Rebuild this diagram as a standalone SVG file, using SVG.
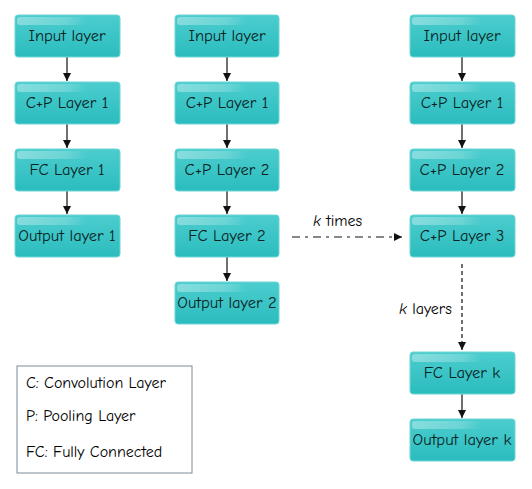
<svg xmlns="http://www.w3.org/2000/svg" width="532" height="489" viewBox="0 0 532 489">
<defs>
<linearGradient id="g" x1="0" y1="0" x2="0" y2="1">
<stop offset="0" stop-color="#4ccdce"/>
<stop offset="1" stop-color="#2bbcbe"/>
</linearGradient>
<linearGradient id="hl" x1="0" y1="0" x2="1" y2="0">
<stop offset="0" stop-color="#ffffff" stop-opacity="0.35"/>
<stop offset="0.7" stop-color="#ffffff" stop-opacity="0.2"/>
<stop offset="1" stop-color="#ffffff" stop-opacity="0"/>
</linearGradient>
<marker id="ah" markerWidth="10" markerHeight="10" refX="9" refY="5" orient="auto" markerUnits="userSpaceOnUse">
<path d="M1,1 L9,5 L1,9 Z" fill="#111"/>
</marker>
</defs>
<style>
.box{fill:url(#g);stroke:#6fd6d6;stroke-width:1}
.hl{fill:url(#hl)}
.t{font-family:"Comic Neue","Liberation Sans",Arial,sans-serif;font-size:16.5px;fill:#0a2222;text-anchor:middle}
.lg{font-family:"Comic Neue","Liberation Sans",Arial,sans-serif;font-size:16px;fill:#000}
.c{stroke:#111;stroke-width:1.2;fill:none}
</style>
<rect width="532" height="489" fill="#ffffff"/>
<g id="connectors">
<line class="c" x1="67" y1="57" x2="67" y2="81" marker-end="url(#ah)"/>
<line class="c" x1="67" y1="124" x2="67" y2="148" marker-end="url(#ah)"/>
<line class="c" x1="67" y1="191" x2="67" y2="214" marker-end="url(#ah)"/>
<line class="c" x1="227" y1="57" x2="227" y2="81" marker-end="url(#ah)"/>
<line class="c" x1="227" y1="124" x2="227" y2="148" marker-end="url(#ah)"/>
<line class="c" x1="227" y1="191" x2="227" y2="214" marker-end="url(#ah)"/>
<line class="c" x1="227" y1="257" x2="227" y2="281" marker-end="url(#ah)"/>
<line class="c" x1="462" y1="57" x2="462" y2="81" marker-end="url(#ah)"/>
<line class="c" x1="462" y1="124" x2="462" y2="148" marker-end="url(#ah)"/>
<line class="c" x1="462" y1="191" x2="462" y2="214" marker-end="url(#ah)"/>
<line class="c" x1="462" y1="394" x2="462" y2="418" marker-end="url(#ah)"/>
<line class="c" x1="292" y1="237" x2="402" y2="237" stroke="#000" stroke-width="2.5" stroke-dasharray="8,5,3,5" marker-end="url(#ah)"/>
<line class="c" x1="462" y1="264" x2="462" y2="350" stroke-dasharray="4,3" marker-end="url(#ah)"/>
<text class="lg" x="313" y="226"><tspan font-style="italic">k</tspan> times</text>
<text class="lg" x="399" y="314"><tspan font-style="italic">k</tspan> layers</text>
</g>
<g id="c1-input"><rect class="box" x="15" y="15" width="105" height="42" rx="3"/><rect class="hl" x="17" y="17" width="70" height="8" rx="3"/><text class="t" x="67" y="41">Input layer</text></g>
<g id="c1-cp1"><rect class="box" x="15" y="82" width="105" height="42" rx="3"/><rect class="hl" x="17" y="84" width="70" height="8" rx="3"/><text class="t" x="67" y="108">C+P Layer 1</text></g>
<g id="c1-fc1"><rect class="box" x="15" y="149" width="105" height="42" rx="3"/><rect class="hl" x="17" y="151" width="70" height="8" rx="3"/><text class="t" x="67" y="175">FC Layer 1</text></g>
<g id="c1-out1"><rect class="box" x="15" y="215" width="105" height="42" rx="3"/><rect class="hl" x="17" y="217" width="70" height="8" rx="3"/><text class="t" x="67" y="241">Output layer 1</text></g>

<g id="c2-input"><rect class="box" x="175" y="15" width="104" height="42" rx="3"/><rect class="hl" x="177" y="17" width="70" height="8" rx="3"/><text class="t" x="227" y="41">Input layer</text></g>
<g id="c2-cp1"><rect class="box" x="175" y="82" width="104" height="42" rx="3"/><rect class="hl" x="177" y="84" width="70" height="8" rx="3"/><text class="t" x="227" y="108">C+P Layer 1</text></g>
<g id="c2-cp2"><rect class="box" x="175" y="149" width="104" height="42" rx="3"/><rect class="hl" x="177" y="151" width="70" height="8" rx="3"/><text class="t" x="227" y="175">C+P Layer 2</text></g>
<g id="c2-fc2"><rect class="box" x="175" y="215" width="104" height="42" rx="3"/><rect class="hl" x="177" y="217" width="70" height="8" rx="3"/><text class="t" x="227" y="241">FC Layer 2</text></g>
<g id="c2-out2"><rect class="box" x="175" y="282" width="104" height="42" rx="3"/><rect class="hl" x="177" y="284" width="70" height="8" rx="3"/><text class="t" x="227" y="308">Output layer 2</text></g>

<g id="c3-input"><rect class="box" x="410" y="15" width="105" height="42" rx="3"/><rect class="hl" x="412" y="17" width="70" height="8" rx="3"/><text class="t" x="462" y="41">Input layer</text></g>
<g id="c3-cp1"><rect class="box" x="410" y="82" width="105" height="42" rx="3"/><rect class="hl" x="412" y="84" width="70" height="8" rx="3"/><text class="t" x="462" y="108">C+P Layer 1</text></g>
<g id="c3-cp2"><rect class="box" x="410" y="149" width="105" height="42" rx="3"/><rect class="hl" x="412" y="151" width="70" height="8" rx="3"/><text class="t" x="462" y="175">C+P Layer 2</text></g>
<g id="c3-cp3"><rect class="box" x="410" y="215" width="105" height="42" rx="3"/><rect class="hl" x="412" y="217" width="70" height="8" rx="3"/><text class="t" x="462" y="241">C+P Layer 3</text></g>
<g id="c3-fck"><rect class="box" x="410" y="352" width="105" height="42" rx="3"/><rect class="hl" x="412" y="354" width="70" height="8" rx="3"/><text class="t" x="462" y="378">FC Layer k</text></g>
<g id="c3-outk"><rect class="box" x="410" y="419" width="105" height="42" rx="3"/><rect class="hl" x="412" y="421" width="70" height="8" rx="3"/><text class="t" x="462" y="445">Output layer k</text></g>

<g id="legend">
<rect x="17" y="366" width="175" height="107" fill="#ffffff" stroke="#7a8a9a" stroke-width="1"/>
<text class="lg" x="26" y="388">C: Convolution Layer</text>
<text class="lg" x="26" y="421">P: Pooling Layer</text>
<text class="lg" x="26" y="457">FC: Fully Connected</text>
</g>
</svg>
